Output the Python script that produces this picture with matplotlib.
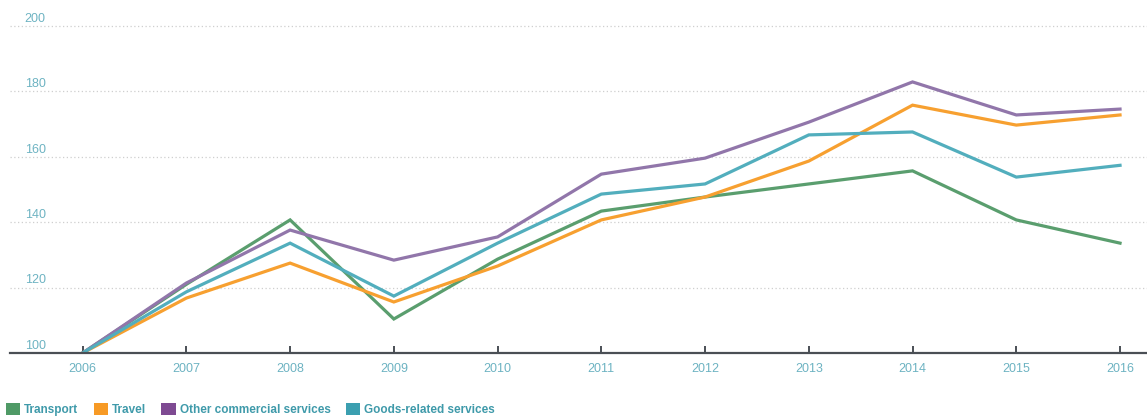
import numpy as np
import matplotlib
matplotlib.use('Agg')
import matplotlib.pyplot as plt
from matplotlib.patches import Patch
from matplotlib.transforms import blended_transform_factory

plt.rcParams['font.family'] = ['Liberation Sans', 'DejaVu Sans']

years = [2006, 2007, 2008, 2009, 2010, 2011, 2012, 2013, 2014, 2015, 2016]
transport = [100, 121.0, 140.7, 110.4, 128.7, 143.4, 147.7, 151.7, 155.7, 140.7, 133.6]
travel = [100, 116.8, 127.5, 115.6, 126.6, 140.7, 147.7, 158.7, 175.8, 169.7, 172.8]
other_commercial = [100, 121.4, 137.6, 128.4, 135.5, 154.7, 159.6, 170.6, 182.9, 172.8, 174.6]
goods_related = [100, 118.7, 133.6, 117.4, 133.6, 148.6, 151.7, 166.7, 167.6, 153.8, 157.4]
y_ticks = [100, 120, 140, 160, 180, 200]

series = [
    ('Transport', transport, '#5a9e6e', '#4f9a66'),
    ('Travel', travel, '#f7a030', '#f79a25'),
    ('Other commercial services', other_commercial, '#9176aa', '#7e4a92'),
    ('Goods-related services', goods_related, '#52aebd', '#3b9fb0'),
]

label_col = '#6db3c2'
legend_text_col = '#3f9aaa'

fig = plt.figure(figsize=(11.47, 4.18), dpi=100)
ax = fig.add_axes([10 / 1147, 1 - 353 / 418, 1137 / 1147, 343 / 418])

# dotted grid
for yv in y_ticks[1:]:
    ax.axhline(yv, color='#cfcfcf', lw=0.9, ls=(0, (1, 2)), zorder=1)

for name, vals, col, _ in series:
    ax.plot(years, vals, color=col, lw=2.3, solid_joinstyle='miter', zorder=3)

ax.set_xlim(2005.30, 2016.26)
ax.set_ylim(100, 204.9)

for s in ['top', 'right', 'left']:
    ax.spines[s].set_visible(False)
ax.spines['bottom'].set_color('#4a4f55')
ax.spines['bottom'].set_linewidth(1.6)
ax.spines['bottom'].set_zorder(4)

ax.set_yticks([])
ax.set_xticks(years)
ax.set_xticklabels([str(y) for y in years])
ax.tick_params(axis='x', direction='in', length=5, width=1.4, color='#4a4f55',
               labelcolor=label_col, labelsize=9, pad=7)

# y labels above grid lines, inside the plot
trans = blended_transform_factory(ax.transAxes, ax.transData)
for yv in y_ticks:
    ax.text(0.013, yv + 0.4, str(yv), transform=trans, color=label_col,
            fontsize=9, ha='left', va='bottom')

handles = [Patch(facecolor=lc, edgecolor='none', label=name) for name, _, _, lc in series]
leg = fig.legend(handles=handles, loc='lower left', bbox_to_anchor=(0.0, -0.01),
                 ncol=4, frameon=False, handlelength=1.2, handleheight=1.2,
                 handletextpad=0.35, columnspacing=1.3, borderaxespad=0.1,
                 prop={'size': 8.5, 'weight': 'bold'})
for t in leg.get_texts():
    t.set_color(legend_text_col)

fig.savefig('out.png', dpi=100)
